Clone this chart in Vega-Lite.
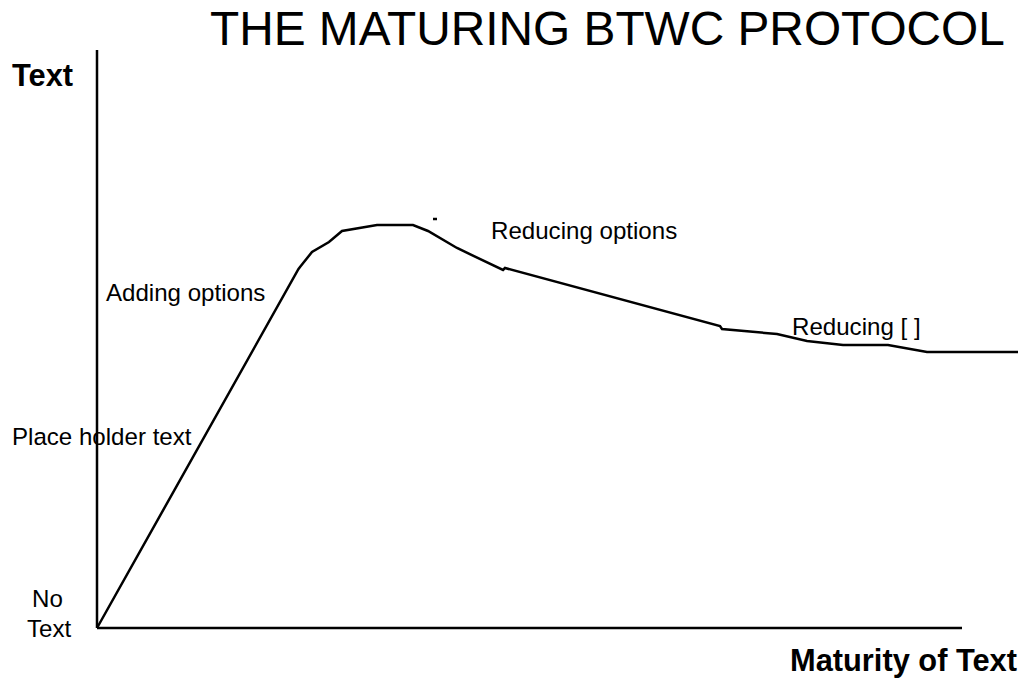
{
  "$schema": "https://vega.github.io/schema/vega-lite/v6.json",
  "width": 1028,
  "height": 682,
  "padding": 0,
  "autosize": {"type": "fit", "contains": "padding"},
  "background": "white",
  "config": {"view": {"stroke": null}, "font": "Liberation Sans"},
  "datasets": {
    "lines": [
      {"seg": "yaxis", "i": 0, "x": 0, "y": 0},
      {"seg": "yaxis", "i": 1, "x": 0, "y": 57.8},
      {"seg": "xaxis", "i": 0, "x": 0, "y": 0},
      {"seg": "xaxis", "i": 1, "x": 86.5, "y": 0},
      {"seg": "curve", "i": 0, "x": 0, "y": 0},
      {"seg": "curve", "i": 1, "x": 20.15, "y": 35.9},
      {"seg": "curve", "i": 2, "x": 20.3, "y": 36.1},
      {"seg": "curve", "i": 3, "x": 21.5, "y": 37.6},
      {"seg": "curve", "i": 4, "x": 23.2, "y": 38.6},
      {"seg": "curve", "i": 5, "x": 24.5, "y": 39.7},
      {"seg": "curve", "i": 6, "x": 28.0, "y": 40.3},
      {"seg": "curve", "i": 7, "x": 31.6, "y": 40.3},
      {"seg": "curve", "i": 8, "x": 33.1, "y": 39.7},
      {"seg": "curve", "i": 9, "x": 36.0, "y": 38.0},
      {"seg": "curve", "i": 10, "x": 40.6, "y": 35.8},
      {"seg": "curve", "i": 11, "x": 40.8, "y": 36.0},
      {"seg": "curve", "i": 12, "x": 62.3, "y": 30.2},
      {"seg": "curve", "i": 13, "x": 62.5, "y": 29.9},
      {"seg": "curve", "i": 14, "x": 68.0, "y": 29.4},
      {"seg": "curve", "i": 15, "x": 71.0, "y": 28.7},
      {"seg": "curve", "i": 16, "x": 74.6, "y": 28.3},
      {"seg": "curve", "i": 17, "x": 79.1, "y": 28.3},
      {"seg": "curve", "i": 18, "x": 83.0, "y": 27.6},
      {"seg": "curve", "i": 19, "x": 92.1, "y": 27.6},
      {"seg": "dash", "i": 0, "x": 33.6, "y": 40.9},
      {"seg": "dash", "i": 1, "x": 34.0, "y": 40.9}
    ],
    "title": [
      {"label": "THE MATURING BTWC PROTOCOL", "x": 11.3, "y": 58.3}
    ],
    "boldLabels": [
      {"label": "Text", "x": -8.5, "y": 54.2},
      {"label": "Maturity of Text", "x": 69.3, "y": -4.3}
    ],
    "labels": [
      {"label": "No", "x": -6.5, "y": 2.1},
      {"label": "Text", "x": -7.0, "y": -0.9},
      {"label": "Place holder text", "x": -8.5, "y": 18.3},
      {"label": "Adding options", "x": 0.9, "y": 32.7},
      {"label": "Reducing options", "x": 39.4, "y": 38.9},
      {"label": "Reducing [ ]", "x": 69.5, "y": 29.3}
    ]
  },
  "layer": [
    {
      "data": {"name": "lines"},
      "mark": {"type": "line", "color": "black", "strokeWidth": 2.5, "strokeCap": "butt", "strokeJoin": "miter"},
      "encoding": {
        "x": {"field": "x", "type": "quantitative", "scale": {"domain": [-9.7, 93.1], "nice": false, "zero": false}, "axis": null},
        "y": {"field": "y", "type": "quantitative", "scale": {"domain": [-5.4, 62.8], "nice": false, "zero": false}, "axis": null},
        "detail": {"field": "seg"},
        "order": {"field": "i", "type": "quantitative"}
      }
    },
    {
      "data": {"name": "title"},
      "mark": {"type": "text", "align": "left", "baseline": "alphabetic", "fontSize": 47.8, "font": "Liberation Sans", "color": "black"},
      "encoding": {
        "x": {"field": "x", "type": "quantitative"},
        "y": {"field": "y", "type": "quantitative"},
        "text": {"field": "label"}
      }
    },
    {
      "data": {"name": "boldLabels"},
      "mark": {"type": "text", "align": "left", "baseline": "alphabetic", "fontSize": 30.8, "fontWeight": "bold", "font": "Liberation Sans", "color": "black"},
      "encoding": {
        "x": {"field": "x", "type": "quantitative"},
        "y": {"field": "y", "type": "quantitative"},
        "text": {"field": "label"}
      }
    },
    {
      "data": {"name": "labels"},
      "mark": {"type": "text", "align": "left", "baseline": "alphabetic", "fontSize": 24.1, "font": "Liberation Sans", "color": "black"},
      "encoding": {
        "x": {"field": "x", "type": "quantitative"},
        "y": {"field": "y", "type": "quantitative"},
        "text": {"field": "label"}
      }
    }
  ]
}
